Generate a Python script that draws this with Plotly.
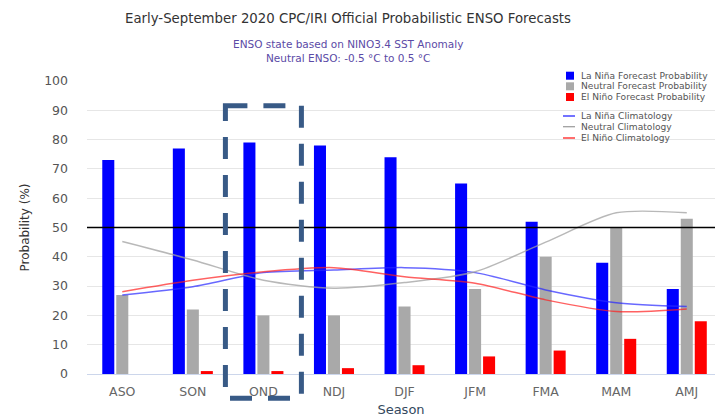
import plotly.graph_objects as go

# ---------------- data ----------------
seasons = ["ASO", "SON", "OND", "NDJ", "DJF", "JFM", "FMA", "MAM", "AMJ"]
lanina_prob = [73, 77, 79, 78, 74, 65, 52, 38, 29]
neutral_prob = [27, 22, 20, 20, 23, 29, 40, 50, 53]
elnino_prob = [0, 1, 1, 2, 3, 6, 8, 12, 18]

lanina_clim = [27, 29.8, 34.6, 35.5, 36.3, 34.6, 28.7, 24.3, 23]
neutral_clim = [45.2, 38.9, 32, 29.3, 31.2, 34.9, 45, 55, 55]
elnino_clim = [28.1, 32, 34.9, 36.3, 33.2, 31, 25.3, 21.3, 22.2]

bar_names = ["La Niña Forecast Probability", "Neutral Forecast Probability", "El Niño Forecast Probability"]
line_names = ["La Niña Climatology", "Neutral Climatology", "El Niño Climatology"]
y_ticks = [0, 10, 20, 30, 40, 50, 60, 70, 80, 90, 100]
highlight_season = "OND"

title_text = "Early-September 2020 CPC/IRI Official Probabilistic ENSO Forecasts"
subtitle_text = "ENSO state based on NINO3.4 SST Anomaly<br>Neutral ENSO: -0.5 °C to 0.5 °C"

# ---------------- styling ----------------
FONT = "DejaVu Sans"
bar_colors = ["#0000ff", "#a9a9a9", "#ff0000"]
line_colors = ["rgba(40,40,255,0.7)", "rgba(160,160,160,0.75)", "rgba(255,30,30,0.7)"]

W, H = 715, 417
L, R, T, B = 87, 715, 81, 374
x_range = [-0.5, 8.4]


def px_x(px):
    return (px - L) / (R - L)


def px_y(py):
    return (B - py) / (B - T)


fig = go.Figure()
for name, vals, col in zip(bar_names, [lanina_prob, neutral_prob, elnino_prob], bar_colors):
    fig.add_trace(go.Bar(x=seasons, y=vals, name=name, marker=dict(color=col, line=dict(width=0)),
                         showlegend=False))
for name, vals, col in zip(line_names, [lanina_clim, neutral_clim, elnino_clim], line_colors):
    fig.add_trace(go.Scatter(x=seasons, y=vals, name=name, mode="lines",
                             line=dict(color=col, width=1.5, shape="spline", smoothing=0.75),
                             showlegend=False))

shapes = []
annotations = []

# 50% reference line
shapes.append(dict(type="line", xref="paper", x0=0, x1=1, yref="y", y0=50, y1=50,
                   line=dict(color="black", width=1.3), layer="above"))

# highlight box around the OND season (dashed)
idx = seasons.index(highlight_season)
cat_w = (R - L) / (x_range[1] - x_range[0])
cx = L + (idx - x_range[0]) * cat_w
shapes.append(dict(type="rect", xref="paper", yref="paper",
                   x0=px_x(cx - 38), x1=px_x(cx + 38), y0=px_y(105.7), y1=px_y(398.3),
                   line=dict(color="#385a86", width=5, dash="22px,16px"), layer="above"))

# custom compact legend
leg_text_x = 579
bar_leg_y = [75.7, 86.3, 97]
line_leg_y = [116, 126.7, 138]
LEG_SIZE = 9.1
for name, col, yy in zip(bar_names, bar_colors, bar_leg_y):
    shapes.append(dict(type="rect", xref="paper", yref="paper",
                       x0=px_x(566), x1=px_x(574), y0=px_y(yy - 4), y1=px_y(yy + 4),
                       fillcolor=col, line=dict(width=0)))
    annotations.append(dict(text=name, xref="paper", yref="paper", x=px_x(leg_text_x), y=px_y(yy),
                            xanchor="left", yanchor="middle", showarrow=False,
                            font=dict(family=FONT, size=LEG_SIZE, color="#555555")))
for name, col, yy in zip(line_names, ["#2828ff", "#a0a0a0", "#ff1e1e"], line_leg_y):
    shapes.append(dict(type="line", xref="paper", yref="paper",
                       x0=px_x(563), x1=px_x(575), y0=px_y(yy), y1=px_y(yy),
                       line=dict(color=col, width=1.3)))
    annotations.append(dict(text=name, xref="paper", yref="paper", x=px_x(leg_text_x), y=px_y(yy),
                            xanchor="left", yanchor="middle", showarrow=False,
                            font=dict(family=FONT, size=LEG_SIZE, color="#555555")))

# subtitle
annotations.append(dict(text=subtitle_text, xref="paper", yref="paper", x=px_x(348), y=px_y(51),
                        xanchor="center", yanchor="middle", showarrow=False, align="center",
                        font=dict(family=FONT, size=10.5, color="#5b4aa6")))

fig.update_layout(
    width=W, height=H,
    margin=dict(l=L, r=W - R, t=T, b=H - B, pad=0),
    paper_bgcolor="white", plot_bgcolor="white",
    barmode="group", bargap=0.405, bargroupgap=0.14,
    showlegend=False,
    font=dict(family=FONT),
    title=dict(text=title_text, xref="paper", x=px_x(348), xanchor="center",
               yref="container", y=1 - 18 / H, yanchor="middle",
               font=dict(family=FONT, size=13.3, color="#333333")),
    xaxis=dict(type="category", categoryorder="array", categoryarray=seasons, range=x_range,
               showgrid=False, showline=True, linecolor="#ccd6eb", linewidth=1,
               ticks="", ticklabelstandoff=6,
               tickfont=dict(family=FONT, size=12.5, color="#666666"),
               title=dict(text="Season", standoff=6, font=dict(family=FONT, size=13, color="#34495e"))),
    yaxis=dict(range=[0, 100], tickvals=y_ticks, showgrid=True, gridcolor="#e6e6e6", gridwidth=1,
               zeroline=False, showline=False, ticks="", ticklabelstandoff=18,
               tickfont=dict(family=FONT, size=12.5, color="#555555"),
               title=dict(text="Probability (%)", standoff=11,
                          font=dict(family=FONT, size=12, color="#333333"))),
    shapes=shapes, annotations=annotations,
)

fig.write_html("out.html", config={"displayModeBar": False},
               post_script="document.body.style.margin='0';document.body.style.padding='0';")
